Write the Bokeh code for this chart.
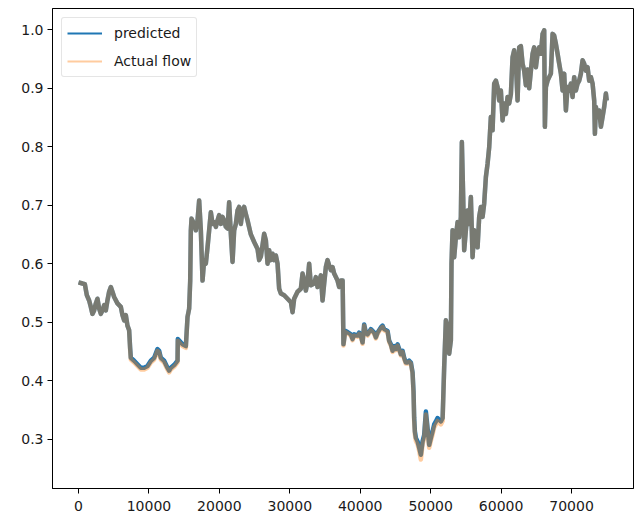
from bokeh.plotting import figure
from bokeh.models import ColumnDataSource, Range1d, FixedTicker, PrintfTickFormatter, BasicTickFormatter
from bokeh.embed import file_html
from bokeh.resources import INLINE

# ---- data ----
x_index = [0, 560, 900, 1180, 1510, 1750, 1980, 2220, 2460, 2690, 2930, 3170, 3400, 3640, 3880, 4110, 4350, 4590, 4820, 5060,
           5530, 6010, 6240, 6480, 6720, 6950, 7190,
           7330, 7430, 7900, 8370, 8850, 9320, 9790, 10270, 10740, 11210, 11450, 11690, 12160, 12630, 12870, 13110, 13600,
           14060, 14100, 14770, 15240,
           15480, 15710, 15860, 15950, 16050, 16420, 16660, 16900, 17130, 17370, 17610, 17840, 18080, 18320, 18550, 18790,
           19030, 19260, 19500, 19740, 19970, 20210, 20450, 20680, 20920, 21160, 21390, 21630, 21870, 22100, 22340, 22580,
           22810, 23050, 23290, 23520, 23760, 24000, 24470, 24940, 25420, 25650, 25890, 26360, 26600, 26840, 27070, 27310,
           27550, 27780, 28020, 28260, 28490, 28730, 29200, 29680, 30150, 30390, 30620, 31100, 31570, 31810, 32040, 32280,
           32520, 32750, 32990, 33460, 33700, 33940, 34410, 34650, 34880, 35120, 35360, 35590, 35830, 36070, 36300, 36780,
           37010, 37250, 37500,
           37620, 37860, 38200, 38670, 38910, 39140, 39620, 39850, 40090, 40330, 40560, 40800, 41040, 41510, 41980, 42220,
           42460, 42930, 43170, 43400, 43880, 44110, 44350, 44590, 44820, 45060, 45300, 45530, 45770, 46010, 46240, 46480,
           46720, 46950, 47190, 47430,
           47570, 47660, 47760, 47900, 48140, 48370, 48610, 48850, 49080, 49320, 49560, 49790, 50030, 50270, 50500, 50740,
           50980, 51210, 51450, 51700,
           51920, 52160, 52400, 52630, 52870, 52960, 53110, 53340, 53580, 53820, 54050, 54290, 54430, 54620, 54760, 55000,
           55240, 55470, 55710, 55950, 56180, 56420, 56660, 56890, 57130, 57370, 57600, 57840, 58080, 58310, 58550, 58790,
           59020, 59260, 59500, 59730, 59970, 60210, 60440, 60680, 60920, 61150, 61390, 61630, 61860, 62100, 62340, 62570,
           62810, 63050, 63280, 63520, 63760, 63990, 64230, 64470, 64700, 64940, 65180, 65410, 65650, 65890, 66120, 66220,
           66360, 66600, 66830, 67070, 67310, 67540, 67780, 68020, 68250, 68490, 68730, 68960, 69200, 69440, 69670, 69910,
           70150, 70380, 70620, 70860, 71090, 71330, 71570, 71800, 72040, 72280, 72510, 72750, 72990, 73220, 73320, 73460,
           73700, 73930, 74170, 74410, 74640, 74880, 75000]

predicted = [0.568, 0.566, 0.565, 0.546, 0.537, 0.526, 0.514, 0.520, 0.532, 0.540, 0.523, 0.514, 0.520, 0.529, 0.520, 0.537, 0.552, 0.560, 0.552, 0.543,
             0.532, 0.526, 0.512, 0.503, 0.512, 0.494, 0.486,
             0.456, 0.439, 0.434, 0.428, 0.422, 0.422, 0.425, 0.434, 0.439, 0.454, 0.451, 0.439, 0.434, 0.422, 0.417, 0.422, 0.427,
             0.434, 0.471, 0.462, 0.459,
             0.509, 0.523, 0.571, 0.657, 0.677, 0.668, 0.657, 0.674, 0.708, 0.657, 0.571, 0.606, 0.600, 0.628, 0.657, 0.688,
             0.668, 0.671, 0.663, 0.674, 0.683, 0.668, 0.680, 0.674, 0.663, 0.660, 0.705, 0.651, 0.603, 0.657, 0.668, 0.691,
             0.697, 0.668, 0.691, 0.697, 0.685, 0.674, 0.650, 0.637, 0.625, 0.606, 0.612, 0.651, 0.640, 0.600, 0.623, 0.606,
             0.617, 0.606, 0.614, 0.600, 0.557, 0.549, 0.546, 0.540, 0.534, 0.517, 0.540, 0.552, 0.557, 0.583, 0.571, 0.554,
             0.569, 0.600, 0.563, 0.566, 0.577, 0.560, 0.580, 0.537, 0.566, 0.594, 0.606, 0.597, 0.589, 0.594, 0.583, 0.571,
             0.560, 0.571, 0.571,
             0.462, 0.485, 0.483, 0.479, 0.471, 0.479, 0.477, 0.482, 0.477, 0.465, 0.496, 0.482, 0.479, 0.488, 0.482, 0.474,
             0.482, 0.491, 0.494, 0.488, 0.485, 0.468, 0.462, 0.451, 0.459, 0.454, 0.462, 0.454, 0.445, 0.451, 0.439, 0.431,
             0.431, 0.434, 0.431, 0.414,
             0.381, 0.336, 0.313, 0.302, 0.296, 0.285, 0.273, 0.296, 0.307, 0.347, 0.319, 0.290, 0.302, 0.313, 0.325, 0.330,
             0.336, 0.333, 0.330, 0.336,
             0.423, 0.503, 0.492, 0.446, 0.469, 0.600, 0.657, 0.611, 0.645, 0.671, 0.645, 0.680, 0.808, 0.714, 0.623, 0.657,
             0.691, 0.668, 0.714, 0.611, 0.657, 0.645, 0.628, 0.680, 0.697, 0.680, 0.703, 0.748, 0.771, 0.799, 0.851, 0.828,
             0.908, 0.913, 0.902, 0.879, 0.896, 0.845, 0.874, 0.856, 0.885, 0.874, 0.890, 0.953, 0.965, 0.942, 0.879, 0.970,
             0.972, 0.942, 0.930, 0.905, 0.932, 0.900, 0.930, 0.959, 0.970, 0.936, 0.959, 0.970, 0.959, 0.993, 0.999, 0.834,
             0.902, 0.913, 0.919, 0.925, 0.993, 0.990, 0.976, 0.959, 0.942, 0.925, 0.896, 0.925, 0.862, 0.902, 0.896, 0.908,
             0.885, 0.919, 0.896, 0.908, 0.913, 0.925, 0.948, 0.942, 0.930, 0.936, 0.913, 0.919, 0.908, 0.879, 0.822, 0.868,
             0.851, 0.862, 0.834, 0.851, 0.868, 0.891, 0.879]

actual_flow = [0.568, 0.566, 0.565, 0.546, 0.537, 0.526, 0.514, 0.520, 0.532, 0.540, 0.523, 0.514, 0.520, 0.529, 0.520, 0.537, 0.552, 0.560, 0.552, 0.543,
               0.532, 0.526, 0.512, 0.503, 0.512, 0.494, 0.486,
               0.453, 0.436, 0.431, 0.425, 0.419, 0.419, 0.422, 0.431, 0.436, 0.451, 0.448, 0.436, 0.431, 0.419, 0.414, 0.419, 0.424,
               0.431, 0.468, 0.459, 0.456,
               0.509, 0.523, 0.571, 0.657, 0.677, 0.668, 0.657, 0.674, 0.708, 0.657, 0.571, 0.606, 0.600, 0.628, 0.657, 0.688,
               0.668, 0.671, 0.663, 0.674, 0.683, 0.668, 0.680, 0.674, 0.663, 0.660, 0.705, 0.651, 0.603, 0.657, 0.668, 0.691,
               0.697, 0.668, 0.691, 0.697, 0.685, 0.674, 0.650, 0.637, 0.625, 0.606, 0.612, 0.651, 0.640, 0.600, 0.623, 0.606,
               0.617, 0.606, 0.614, 0.600, 0.557, 0.549, 0.546, 0.540, 0.534, 0.517, 0.540, 0.552, 0.557, 0.583, 0.571, 0.554,
               0.569, 0.600, 0.563, 0.566, 0.577, 0.560, 0.580, 0.537, 0.566, 0.594, 0.606, 0.597, 0.589, 0.594, 0.583, 0.571,
               0.560, 0.571, 0.571,
               0.460, 0.483, 0.481, 0.477, 0.469, 0.477, 0.475, 0.480, 0.475, 0.463, 0.494, 0.480, 0.477, 0.486, 0.480, 0.472,
               0.480, 0.489, 0.492, 0.486, 0.483, 0.466, 0.460, 0.449, 0.457, 0.452, 0.460, 0.452, 0.443, 0.449, 0.437, 0.429,
               0.429, 0.432, 0.429, 0.412,
               0.376, 0.331, 0.308, 0.297, 0.291, 0.280, 0.265, 0.291, 0.302, 0.342, 0.314, 0.285, 0.297, 0.308, 0.320, 0.325,
               0.331, 0.328, 0.325, 0.331,
               0.423, 0.503, 0.492, 0.446, 0.469, 0.600, 0.657, 0.611, 0.645, 0.671, 0.645, 0.680, 0.808, 0.714, 0.623, 0.657,
               0.691, 0.668, 0.714, 0.611, 0.657, 0.645, 0.628, 0.680, 0.697, 0.680, 0.703, 0.748, 0.771, 0.799, 0.851, 0.828,
               0.908, 0.913, 0.902, 0.879, 0.896, 0.845, 0.874, 0.856, 0.885, 0.874, 0.890, 0.953, 0.965, 0.942, 0.879, 0.970,
               0.972, 0.942, 0.930, 0.905, 0.932, 0.900, 0.930, 0.959, 0.970, 0.936, 0.959, 0.970, 0.959, 0.993, 0.999, 0.834,
               0.902, 0.913, 0.919, 0.925, 0.993, 0.990, 0.976, 0.959, 0.942, 0.925, 0.896, 0.925, 0.862, 0.902, 0.896, 0.908,
               0.885, 0.919, 0.896, 0.908, 0.913, 0.925, 0.948, 0.942, 0.930, 0.936, 0.913, 0.919, 0.908, 0.879, 0.822, 0.868,
               0.851, 0.862, 0.834, 0.851, 0.868, 0.891, 0.879]

x_ticks = [0, 10000, 20000, 30000, 40000, 50000, 60000, 70000]
y_ticks = [0.3, 0.4, 0.5, 0.6, 0.7, 0.8, 0.9, 1.0]
series_labels = ["predicted", "Actual flow"]

source = ColumnDataSource(data=dict(x=x_index, predicted=predicted, actual=actual_flow))
# one-point sources: a single-point line draws nothing in the plot, but feeds the legend swatch
legend_src = ColumnDataSource(data=dict(x=x_index[:1], predicted=predicted[:1], actual=actual_flow[:1]))

p = figure(width=634, height=517, output_backend="svg", toolbar_location=None,
           x_range=Range1d(-3692, 78800), y_range=Range1d(0.2154, 1.0364),
           min_border_left=52, min_border_right=1, min_border_top=8, min_border_bottom=29)

p.background_fill_color = "white"
p.border_fill_color = "white"
p.outline_line_color = "black"
p.outline_line_width = 1
p.grid.visible = False

for ax in (p.xaxis[0], p.yaxis[0]):
    ax.axis_line_color = "black"
    ax.major_tick_line_color = "black"
    ax.major_tick_out = 5
    ax.major_tick_in = 0
    ax.minor_tick_out = 0
    ax.minor_tick_in = 0
    ax.major_label_text_font = "DejaVu Sans"
    ax.major_label_text_font_size = "14px"
    ax.major_label_text_color = "#1a1a1a"

p.xaxis[0].ticker = FixedTicker(ticks=x_ticks)
p.xaxis[0].formatter = BasicTickFormatter(use_scientific=False)
p.xaxis[0].major_label_standoff = 7
p.yaxis[0].ticker = FixedTicker(ticks=y_ticks)
p.yaxis[0].formatter = PrintfTickFormatter(format="%.1f")
p.yaxis[0].major_label_standoff = 4

blue = "#1f77b4"
orange = "#ff7f0e"

p.line("x", "predicted", source=source, line_color=blue, line_width=4.5, line_join="round")
p.line("x", "actual", source=source, line_color=orange, line_alpha=0.4, line_width=4.5, line_join="round")

# legend swatches with matplotlib default line width
p.line("x", "predicted", source=legend_src, line_color=blue, line_width=2, legend_label=series_labels[0])
p.line("x", "actual", source=legend_src, line_color=orange, line_alpha=0.4, line_width=2, legend_label=series_labels[1])

lg = p.legend[0]
lg.location = "top_left"
lg.margin = 9
lg.padding = 5
lg.spacing = 8
lg.glyph_width = 35
lg.glyph_height = 20
lg.label_height = 20
lg.label_standoff = 12
lg.label_text_font = "DejaVu Sans"
lg.label_text_font_size = "14px"
lg.label_text_color = "#1a1a1a"
lg.border_line_color = "#cccccc"
lg.border_line_width = 1
lg.background_fill_alpha = 0.8
lg.border_radius = 3

open("out.html", "w").write(file_html(p, INLINE))
